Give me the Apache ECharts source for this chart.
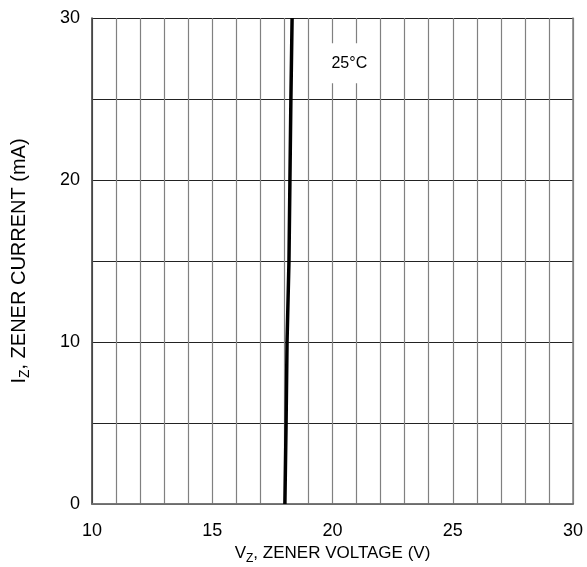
<!DOCTYPE html>
<html><head><meta charset="utf-8">
<script src="https://cdn.jsdelivr.net/npm/echarts@6/dist/echarts.min.js"></script>
<style>html,body{margin:0;padding:0;background:#fff}#c{width:587px;height:567px}</style>
</head><body><div id="c"></div>
<script>
var voltage = [18.02, 18.07, 18.11, 18.19, 18.23, 18.27, 18.32];
var current = [0, 5, 10, 15, 20, 25, 30];
var xTicks = [10, 15, 20, 25, 30];
var yTicks = [0, 10, 20, 30];
var tempLabel = '25°C';
var labelPos = [20.7, 27.2];

var chart = echarts.init(document.getElementById('c'), null, {renderer: 'canvas'});
var F = 'Liberation Sans, Arial, sans-serif';
chart.setOption({
  animation: false,
  grid: {left: 92, right: 14, top: 18, bottom: 63, containLabel: false, outerBoundsMode: 'none'},
  xAxis: [{
    type: 'value', min: 10, max: 30, interval: 1,
    axisLine: {show: true, lineStyle: {color: '#333', width: 1.5}},
    axisTick: {show: false},
    splitLine: {show: true, lineStyle: {color: '#808080', width: 1.2}},
    axisLabel: {fontFamily: F, fontSize: 18, color: '#000', margin: 18,
      formatter: function (v) { return xTicks.indexOf(v) >= 0 ? String(v) : ''; }},
    name: '{n|V}{s|Z}{n|, ZENER VOLTAGE (V)}',
    nameLocation: 'middle', nameGap: 35,
    nameTextStyle: {rich: {n: {fontFamily: F, fontSize: 17, color: '#000'}, s: {fontFamily: F, fontSize: 12, color: '#000', padding: [10, 0, 0, 0]}}}
  }, {
    type: 'value', min: 10, max: 30, position: 'top',
    axisLine: {show: true, lineStyle: {color: '#808080', width: 1.5}},
    axisTick: {show: false}, axisLabel: {show: false}, splitLine: {show: false}
  }],
  yAxis: [{
    type: 'value', min: 0, max: 30, interval: 5,
    axisLine: {show: true, lineStyle: {color: '#333', width: 1.5}},
    axisTick: {show: false},
    splitLine: {show: true, lineStyle: {color: '#222', width: 1}},
    axisLabel: {fontFamily: F, fontSize: 18, color: '#000', margin: 12,
      formatter: function (v) { return yTicks.indexOf(v) >= 0 ? String(v) : ''; }},
    name: '{n|I}{s|Z}{n|, ZENER CURRENT (mA)}',
    nameLocation: 'middle', nameGap: 60,
    nameTextStyle: {rich: {n: {fontFamily: F, fontSize: 20, color: '#000'}, s: {fontFamily: F, fontSize: 14, color: '#000', padding: [12, 0, 0, 0]}}}
  }, {
    type: 'value', min: 0, max: 30, position: 'right',
    axisLine: {show: true, lineStyle: {color: '#808080', width: 1.5}},
    axisTick: {show: false}, axisLabel: {show: false}, splitLine: {show: false}
  }],
  series: [{
    type: 'line',
    data: voltage.map(function (v, i) { return [v, current[i]]; }),
    showSymbol: false, symbol: 'none',
    lineStyle: {color: '#000', width: 3.5},
    z: 5,
    markPoint: {
      symbol: 'rect', symbolSize: 0,
      data: [{coord: labelPos, value: tempLabel}],
      label: {show: true, position: 'inside', formatter: tempLabel, fontFamily: F, fontSize: 16, color: '#000',
        backgroundColor: '#fff', padding: [12, 10]}
    }
  }]
});
</script></body></html>
